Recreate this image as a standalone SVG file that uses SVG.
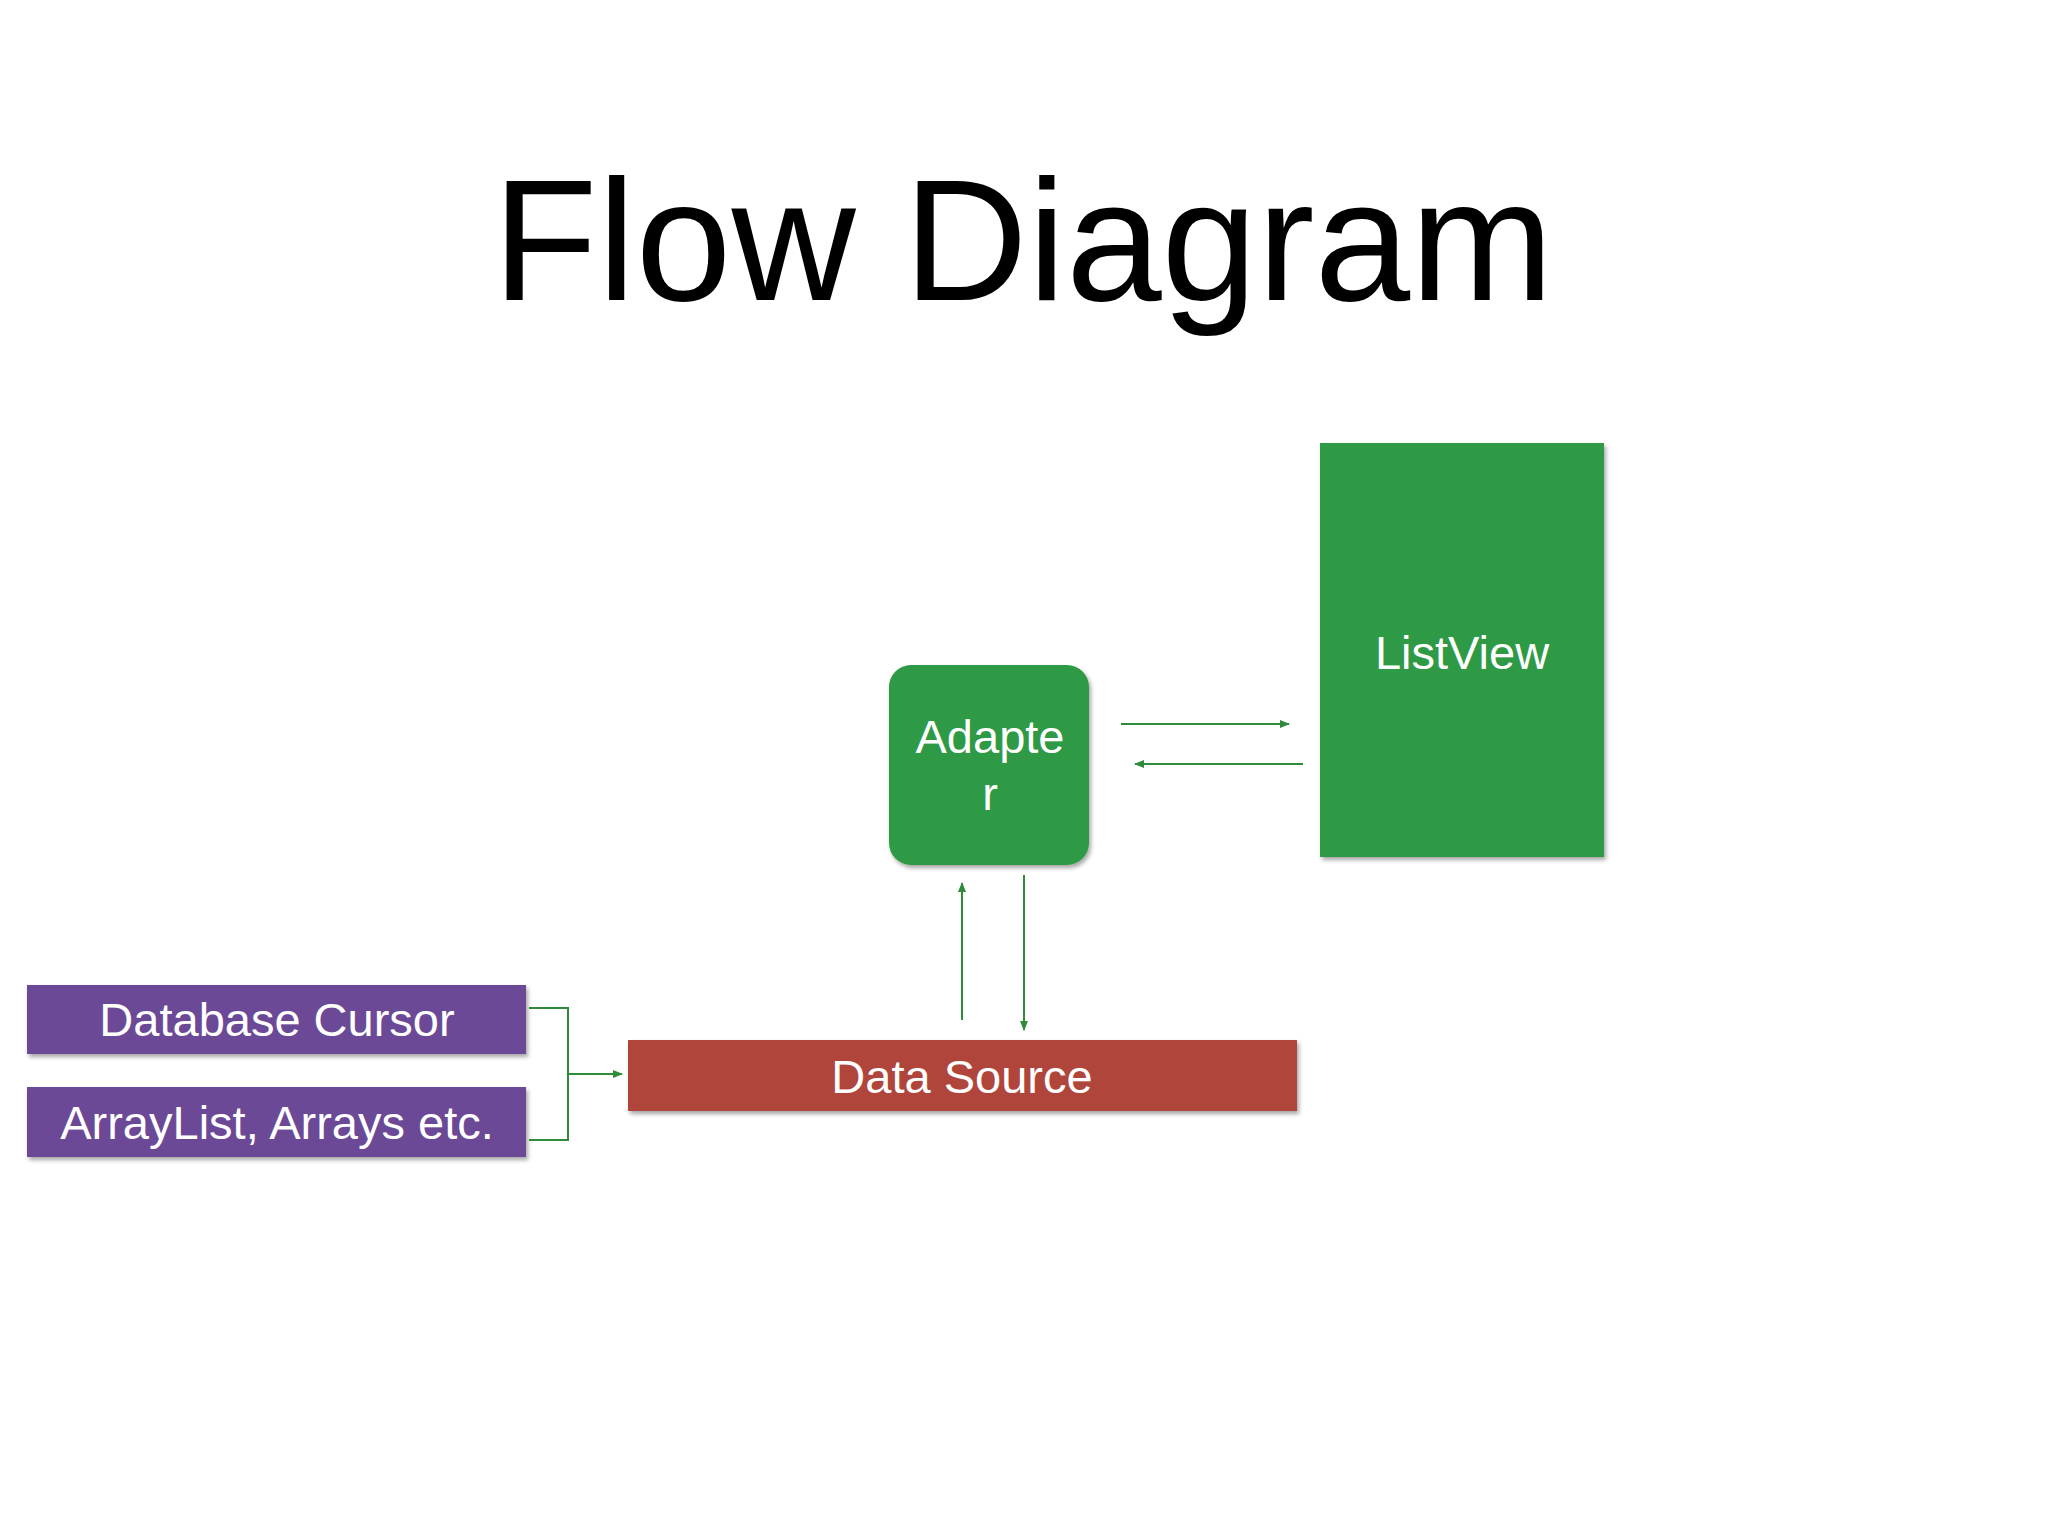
<svg xmlns="http://www.w3.org/2000/svg" width="2048" height="1536" viewBox="0 0 2048 1536">
<defs>
<marker id="ah" viewBox="0 0 10 10" refX="9" refY="5" markerWidth="5" markerHeight="5" orient="auto"><path d="M0,1 L10,5 L0,9 z" fill="#2e8b3a"/></marker>
<filter id="sh" x="-5%" y="-5%" width="115%" height="115%"><feDropShadow dx="2" dy="3" stdDeviation="2" flood-opacity="0.35"/></filter>
</defs>
<style>
text{font-family:"Liberation Sans",Arial,sans-serif;fill:#fff;text-anchor:middle}
.c{stroke:#2e8b3a;stroke-width:2;fill:none}
</style>
<rect width="2048" height="1536" fill="#fff"/>
<text x="1023" y="300" font-size="172" style="fill:#000">Flow Diagram</text>
<g id="listview"><rect x="1320" y="443" width="284" height="414" fill="#2f9a45" filter="url(#sh)"/><text x="1462" y="669" font-size="47">ListView</text></g>
<g id="adapter"><rect x="889" y="665" width="200" height="200" rx="22" fill="#2f9a45" filter="url(#sh)"/><text x="990" y="753" font-size="47">Adapte</text><text x="990" y="810" font-size="47">r</text></g>
<g id="datasource"><rect x="628" y="1040" width="669" height="71" fill="#b0443a" filter="url(#sh)"/><text x="962" y="1093" font-size="47">Data Source</text></g>
<g id="dbcursor"><rect x="27" y="985" width="499" height="69" fill="#6c4a96" filter="url(#sh)"/><text x="277" y="1036" font-size="47">Database Cursor</text></g>
<g id="arraylist"><rect x="27" y="1087" width="499" height="70" fill="#6c4a96" filter="url(#sh)"/><text x="277" y="1139" font-size="47">ArrayList, Arrays etc.</text></g>
<g id="connectors">
<path class="c" d="M529,1008 H568 V1140 H529"/>
<path class="c" d="M568,1074 H622" marker-end="url(#ah)"/>
<path class="c" d="M1121,724 H1289" marker-end="url(#ah)"/>
<path class="c" d="M1303,764 H1135" marker-end="url(#ah)"/>
<path class="c" d="M962,1020 V883" marker-end="url(#ah)"/>
<path class="c" d="M1024,875 V1030" marker-end="url(#ah)"/>
</g>
</svg>
